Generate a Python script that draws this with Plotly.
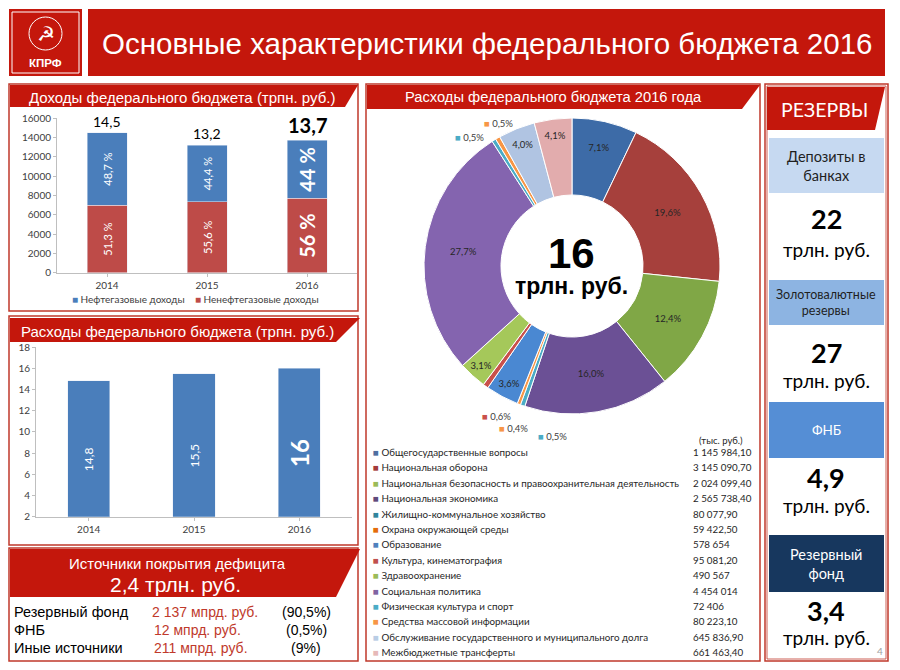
import plotly.graph_objects as go

# page body has an 8px margin; size figure so it fits the 900x670 window exactly
OFF = 8
FW, FH = 900 - 2 * OFF, 670 - 2 * OFF
def X(p): return (p - OFF) / FW
def Y(p): return 1 - (p - OFF) / FH

RED = "#C4170C"
BORDER = "#C0392B"
ARIAL = "Liberation Sans, Arial, sans-serif"
CALIBRI = "Lato, Open Sans, sans-serif"

# ---------------- data ----------------
years = ["2014", "2015", "2016"]
income_nonoil = [7000, 7350, 7700]
income_oil = [7500, 5850, 6000]
income_total_labels = ["14,5", "13,2", "<b>13,7</b>"]
oil_share_labels = ["48,7 %", "44,4 %", "<b>44 %</b>"]
nonoil_share_labels = ["51,3 %", "55,6 %", "<b>56 %</b>"]
income_legend = ["Нефтегазовые доходы", "Ненефтегазовые доходы"]

spend_values = [14.8, 15.5, 16]
spend_labels = ["14,8", "15,5", "<b>16</b>"]

exp_categories = [
    "Общегосударственные вопросы",
    "Национальная оборона",
    "Национальная безопасность и правоохранительная деятельность",
    "Национальная экономика",
    "Жилищно-коммунальное хозяйство",
    "Охрана окружающей среды",
    "Образование",
    "Культура, кинематография",
    "Здравоохранение",
    "Социальная политика",
    "Физическая культура и спорт",
    "Средства массовой информации",
    "Обслуживание государственного и муниципального долга",
    "Межбюджетные трансферты",
]
exp_values = [1145984.10, 3145090.70, 2024099.40, 2565738.40, 80077.90, 59422.50,
              578654, 95081.20, 490567, 4454014, 72406, 80223.10, 645836.90, 661463.40]
exp_value_labels = ["1 145 984,10", "3 145 090,70", "2 024 099,40", "2 565 738,40",
                    "80 077,90", "59 422,50", "578 654", "95 081,20", "490 567",
                    "4 454 014", "72 406", "80 223,10", "645 836,90", "661 463,40"]
exp_inside_labels = ["7,1%", "19,6%", "12,4%", "16,0%", "", "", "3,6%", "",
                     "3,1%", "27,7%", "", "", "4,0%", "4,1%"]
exp_outside_labels = ["", "", "", "", "0,5%", "0,4%", "", "0,6%", "", "", "0,5%", "0,5%", "", ""]
slice_colors = ["#3D6BA7", "#A6403C", "#80A746", "#6B5095", "#4BACC6", "#F79646",
                "#4A88D2", "#C9504B", "#A5C85A", "#8464AF", "#4BACC6", "#F79646",
                "#B0C4E2", "#E2ACAD"]
legend_colors = ["#4F6FA0", "#A33B3B", "#9BBB59", "#604A7B", "#31859C", "#E46C0A",
                 "#4F81BD", "#C0504D", "#9BBB59", "#8064A2", "#4BACC6", "#F79646",
                 "#B9CDE5", "#E6B9B8"]

deficit_sources = ["Резервный фонд", "ФНБ", "Иные источники"]
deficit_amounts = ["2 137 мпрд. руб.", "12 мпрд. руб.", "211 мпрд. руб."]
deficit_shares = ["(90,5%)", "(0,5%)", "(9%)"]

reserve_names = ["Депозиты в<br>банках", "Золотовалютные<br>резервы", "ФНБ", "Резервный<br>фонд"]
reserve_values = ["22", "27", "4,9", "3,4"]

# ---------------- figure ----------------
fig = go.Figure()

BLUE = "#4A7EBB"
BRED = "#BE4B48"

fig.add_trace(go.Bar(x=years, y=income_nonoil, marker_color=BRED, width=0.4,
                     text=nonoil_share_labels, textposition="inside", textangle=-90,
                     insidetextanchor="middle", constraintext="none",
                     textfont=dict(color="white", size=[11, 11, 20], family=CALIBRI),
                     xaxis="x", yaxis="y", showlegend=False, hoverinfo="skip"))
fig.add_trace(go.Bar(x=years, y=income_oil, marker_color=BLUE, width=0.4,
                     text=oil_share_labels, textposition="inside", textangle=-90,
                     insidetextanchor="middle", constraintext="none",
                     textfont=dict(color="white", size=[11, 11, 20], family=CALIBRI),
                     xaxis="x", yaxis="y", showlegend=False, hoverinfo="skip"))

fig.add_trace(go.Bar(x=years, y=spend_values, marker_color=BLUE, width=0.4,
                     text=spend_labels, textposition="inside", textangle=-90,
                     insidetextanchor="middle", constraintext="none",
                     textfont=dict(color="white", size=[12, 12, 24], family=CALIBRI),
                     xaxis="x2", yaxis="y2", showlegend=False, hoverinfo="skip"))

fig.add_trace(go.Pie(labels=exp_categories, values=exp_values, text=exp_inside_labels,
                     textinfo="text", textposition="inside", insidetextorientation="horizontal",
                     sort=False, direction="clockwise", rotation=0, hole=0.48,
                     marker=dict(colors=slice_colors, line=dict(color="white", width=1)),
                     textfont=dict(size=9.5, color="#262626", family=CALIBRI),
                     domain=dict(x=[X(424), X(720)], y=[Y(414), Y(118)]),
                     showlegend=False, hoverinfo="skip"))

axis_common = dict(showgrid=False, zeroline=False, showline=True, linecolor="#BFBFBF",
                   tickfont=dict(size=10, color="#404040", family=CALIBRI), fixedrange=True,
                   automargin=False)

fig.update_layout(
    width=FW, height=FH, margin=dict(l=0, r=0, t=0, b=0, pad=0, autoexpand=False),
    paper_bgcolor="white", plot_bgcolor="rgba(0,0,0,0)",
    barmode="stack", bargap=0.6, showlegend=False,
    xaxis=dict(type="category", range=[-0.5, 2.5], domain=[X(57), X(357)], anchor="y",
               ticks="outside", ticklen=3, tickcolor="#BFBFBF", **axis_common),
    yaxis=dict(domain=[Y(272.7), Y(118.3)], anchor="x", range=[0, 16000], dtick=2000,
               tickformat="d", ticks="outside", ticklen=3, tickcolor="#BFBFBF", **axis_common),
    xaxis2=dict(type="category", range=[-0.5, 2.5], domain=[X(36), X(352)], anchor="y2",
                ticks="outside", ticklen=3, tickcolor="#BFBFBF", **axis_common),
    yaxis2=dict(domain=[Y(516.7), Y(347)], anchor="x2", range=[2, 18], dtick=2,
                ticks="outside", ticklen=3, tickcolor="#BFBFBF", **axis_common),
    font=dict(family=ARIAL),
)

shapes = []
ann = []

def rect(x0, y0, x1, y1, fill=None, line=None, lw=0):
    shapes.append(dict(type="rect", xref="paper", yref="paper",
                       x0=X(x0), x1=X(x1), y0=Y(y1), y1=Y(y0),
                       fillcolor=fill if fill else "rgba(0,0,0,0)",
                       line=dict(color=line if line else "rgba(0,0,0,0)", width=lw),
                       layer="below"))

def band(x0, y0, x1top, x1bot, y1, fill=RED):
    path = "M {} {} L {} {} L {} {} L {} {} Z".format(
        X(x0), Y(y0), X(x1top), Y(y0), X(x1bot), Y(y1), X(x0), Y(y1))
    shapes.append(dict(type="path", xref="paper", yref="paper", path=path,
                       fillcolor=fill, line=dict(width=0), layer="below"))

def text(x, y, s, size, color="black", family=ARIAL, xanchor="center", yanchor="middle"):
    ann.append(dict(xref="paper", yref="paper", x=X(x), y=Y(y), text=s, showarrow=False,
                    xanchor=xanchor, yanchor=yanchor,
                    font=dict(size=size, color=color, family=family)))

# ---- title ----
rect(9, 9, 82, 76, fill=RED)
rect(12, 12, 79, 73, line="white", lw=1)
shapes.append(dict(type="circle", xref="paper", yref="paper",
                   x0=X(29), x1=X(62), y0=Y(50), y1=Y(17),
                   line=dict(color="white", width=1)))
text(45.5, 34, "☭", 20, "white", "DejaVu Sans")
text(45.5, 63, "<b>КПРФ</b>", 11.5, "white", ARIAL)
rect(88, 9, 885, 76, fill=RED)
text(487, 43, "Основные характеристики федерального бюджета 2016", 29.5, "white", ARIAL)

# ---- panel 1 ----
rect(9, 84, 358, 311, fill="white", line=BORDER, lw=1.5)
band(10, 85, 358, 345, 107)
text(182, 97, "Доходы федерального бюджета (трпн. руб.)", 15, "white", ARIAL)
totals = [a + b for a, b in zip(income_nonoil, income_oil)]
for i, (t, lab, sz) in enumerate(zip(totals, income_total_labels, [14, 14, 20])):
    ann.append(dict(xref="x", yref="y", x=i, y=t, text=lab, showarrow=False,
                    yanchor="bottom", yshift=1, font=dict(size=sz, color="black", family=CALIBRI)))
ann.append(dict(xref="paper", yref="paper", x=X(70), y=Y(299),
                text="<span style='color:%s'>■</span> %s    <span style='color:%s'>■</span> %s"
                     % (BLUE, income_legend[0], BRED, income_legend[1]),
                showarrow=False, xanchor="left", yanchor="middle",
                font=dict(size=10, color="#404040", family=CALIBRI)))

# ---- panel 2 ----
rect(9, 316, 358, 545, fill="white", line=BORDER, lw=1.5)
band(10, 318, 360, 336, 342)
text(177, 331, "Расходы федерального бюджета (трпн. руб.)", 15, "white", ARIAL)

# ---- panel 3 ----
rect(9, 548, 358, 661, fill="white", line=BORDER, lw=1.5)
band(10, 549, 360, 336, 597)
text(177, 563, "Источники покрытия дефицита", 15, "white", ARIAL)
text(175, 584, "2,4 трлн. руб.", 21, "white", ARIAL)
for i, (s, a, p) in enumerate(zip(deficit_sources, deficit_amounts, deficit_shares)):
    yy = 612 + i * 18
    text(12, yy, s, 14.5, "black", ARIAL, xanchor="left")
    text(150 + (2 if i else 0), yy, a, 14, "#C0392B", ARIAL, xanchor="left")
    text(306, yy, p, 14, "black", ARIAL)

# ---- donut panel ----
rect(366, 84, 760, 661, fill="white", line=BORDER, lw=1.5)
band(367, 85, 760, 742, 109)
text(553, 97, "Расходы федерального бюджета 2016 года", 14.7, "white", ARIAL)
text(571, 253, "<b>16</b>", 42, "black", ARIAL)
text(571, 286, "<b>трлн. руб.</b>", 23, "black", ARIAL)
small_pos = {4: (536, 436), 5: (497, 428), 7: (480, 416), 10: (453, 137), 11: (482, 124)}
for idx, (xx, yy) in small_pos.items():
    ann.append(dict(xref="paper", yref="paper", x=X(xx), y=Y(yy),
                    text="<span style='color:%s'>■</span> %s" % (slice_colors[idx], exp_outside_labels[idx]),
                    showarrow=False, xanchor="left", yanchor="middle",
                    font=dict(size=9.5, color="#404040", family=CALIBRI)))
text(697, 440, "(тыс. руб.)", 9.5, "#262626", CALIBRI, xanchor="left")
for i, (c, v, col) in enumerate(zip(exp_categories, exp_value_labels, legend_colors)):
    yy = 452 + i * 15.4
    ann.append(dict(xref="paper", yref="paper", x=X(371), y=Y(yy),
                    text="<span style='color:%s'>■</span> %s" % (col, c),
                    showarrow=False, xanchor="left", yanchor="middle",
                    font=dict(size=9.8, color="#262626", family=CALIBRI)))
    text(691, yy, v, 9.8, "#262626", CALIBRI, xanchor="left")

# ---- reserves panel ----
rect(765, 84, 888, 661, fill="white", line=BORDER, lw=1.5)
rect(767, 86, 886, 659, line=BORDER, lw=0.8)
band(767, 87, 885, 875, 130)
text(824, 109, "РЕЗЕРВЫ", 19.5, "white", CALIBRI)
box_specs = [(138, 193, "#C6D9F1", "#1F1F1F", 14.5),
             (280, 325, "#8DB4E2", "#1F1F1F", 12.5),
             (402, 458, "#558ED5", "white", 13.5),
             (535, 592, "#17375E", "white", 14.5)]
val_y = [(218, 250), (352, 380), (477, 505), (610, 637)]
for (y0, y1, fill, tc, fs), name, val, (vy, ty) in zip(box_specs, reserve_names, reserve_values, val_y):
    rect(769, y0, 884, y1, fill=fill)
    text(826, (y0 + y1) / 2, name, fs, tc, CALIBRI)
    text(826, vy, "<b>%s</b>" % val, 27, "black", CALIBRI)
    text(826, ty, "трлн. руб.", 19, "black", CALIBRI)
text(880, 651, "4", 10, "#A0A0A0", CALIBRI)

fig.update_layout(shapes=shapes, annotations=ann)
fig.write_html("out.html")
